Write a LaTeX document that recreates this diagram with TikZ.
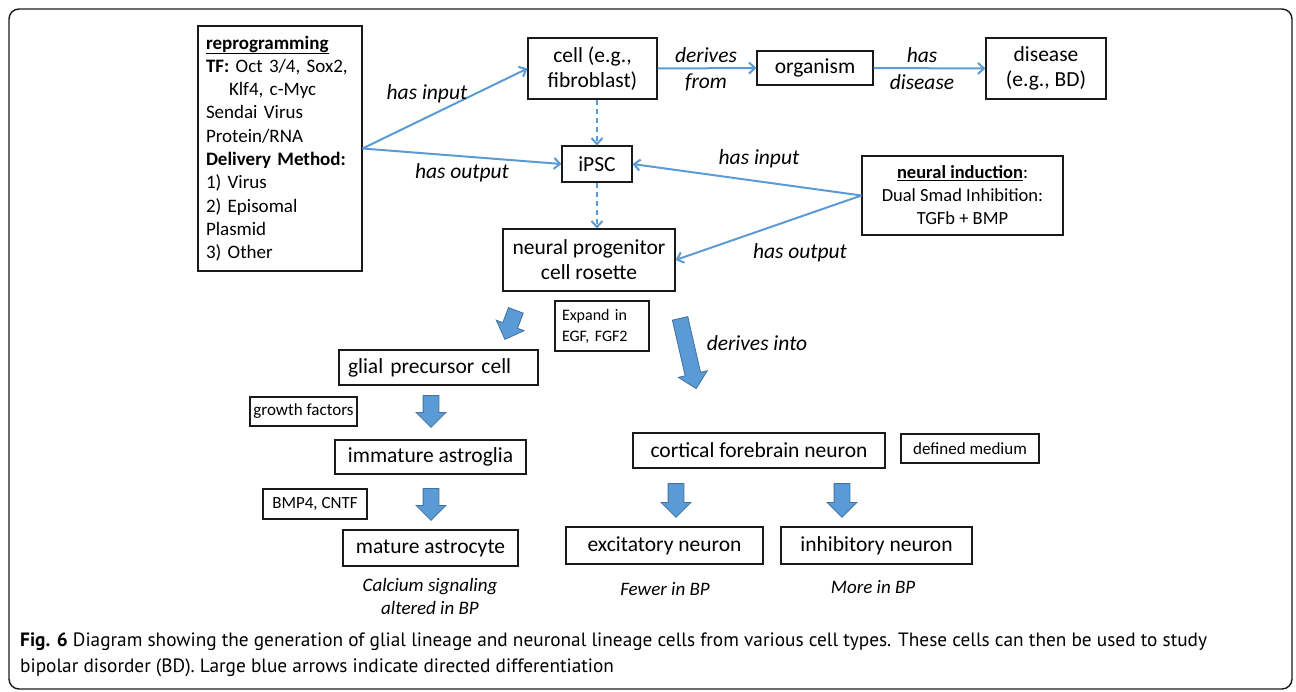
\documentclass[tikz,border=0pt]{standalone}
\usepackage{fontspec}
\setmainfont{Carlito}
\newfontfamily\capfont{PT Sans}
\usetikzlibrary{shapes.arrows,arrows.meta}
\definecolor{lineblue}{HTML}{5B9BD5}
\definecolor{arrfill}{HTML}{5B9BD5}
\definecolor{arredge}{HTML}{41719C}
\definecolor{boxline}{HTML}{1A1A1A}
\begin{document}
\begin{tikzpicture}[x=1pt,y=-1pt,
  box/.style={draw=boxline, line width=1.1pt, inner sep=0pt, align=center, font=\fontsize{21.5}{25}\selectfont},
  smallbox/.style={box, font=\fontsize{17}{21}\selectfont},
  rel/.style={draw=lineblue, line width=2pt, -{Straight Barb[length=6pt,width=11pt]}},
  dashrel/.style={rel, dash pattern=on 5pt off 4pt},
  lbl/.style={font=\fontsize{21.5}{25}\selectfont\itshape, inner sep=0pt},
  note/.style={font=\fontsize{19}{23}\selectfont\itshape, inner sep=0pt, align=center},
  bigarrow/.style={single arrow, draw=arredge, fill=arrfill, line width=0.8pt, inner sep=7.5pt, minimum width=29pt, single arrow head extend=7pt, anchor=tail}]
\useasboundingbox (0,0) rectangle (1296,691);
\draw[line width=1.4pt, draw=boxline, rounded corners=10pt] (9,9) rectangle (1292,689);

% nodes
\node[box, minimum width=164pt, minimum height=245pt, text width=148pt, align=left, font=\fontsize{19}{23.3}\selectfont] (repro) at (280,148.5)
 {\underline{\textbf{reprogramming}}\\ \textbf{TF:} Oct 3/4, Sox2,\\ \hspace*{23pt}Klf4, c-Myc\\ Sendai Virus\\ Protein/RNA\\ \textbf{Delivery Method:}\\ 1) Virus\\ 2) Episomal\\ Plasmid\\ 3) Other};
\node[box, minimum width=129pt, minimum height=61pt] (cell) at (592.5,68.5) {cell (e.g.,\\ fibroblast)};
\node[box, minimum width=116pt, minimum height=34pt] (org) at (815,68) {organism};
\node[box, minimum width=120pt, minimum height=61pt] (dis) at (1046,68.5) {disease\\ (e.g., BD)};
\node[box, minimum width=70pt, minimum height=36pt] (ipsc) at (597,164) {iPSC};
\node[box, minimum width=201pt, minimum height=79pt, font=\fontsize{18.5}{23}\selectfont] (ni) at (962.5,195.5)
 {\underline{\textbf{neural induction}}:\\ Dual Smad Inhibition:\\ TGFb + BMP};
\node[box, minimum width=172pt, minimum height=62pt] (np) at (589,260) {neural progenitor\\ cell rosette};
\node[smallbox, minimum width=94pt, minimum height=50pt, text width=80pt, align=left, font=\fontsize{16}{21}\selectfont] (exp) at (602,326) {Expand in\\ EGF, FGF2};
\node[box, minimum width=199pt, minimum height=35pt, text width=181pt, align=left] (gpc) at (438.5,367.5) {glial precursor cell};
\node[smallbox, minimum width=107pt, minimum height=29pt] (gf) at (303.5,411.5) {growth factors};
\node[box, minimum width=191pt, minimum height=34pt] (ia) at (430.5,457) {immature astroglia};
\node[smallbox, minimum width=104pt, minimum height=30pt] (bmp) at (315,504) {BMP4, CNTF};
\node[box, minimum width=175pt, minimum height=36pt] (ma) at (430.5,548) {mature astrocyte};
\node[note] (ca) at (430,596) {Calcium signaling\\ altered in BP};
\node[box, minimum width=252pt, minimum height=35pt] (cfn) at (759,450.5) {cortical forebrain neuron};
\node[smallbox, minimum width=138pt, minimum height=29pt] (dm) at (970,448.5) {defined medium};
\node[box, minimum width=197pt, minimum height=37pt] (exc) at (664.5,545.5) {excitatory neuron};
\node[box, minimum width=191pt, minimum height=37pt] (inh) at (876.5,545.5) {inhibitory neuron};
\node[note] (few) at (665,589) {Fewer in BP};
\node[note] (more) at (873,587) {More in BP};

% connectors
\draw[rel] (repro.east) -- (cell.west);
\draw[rel] (repro.east) -- (ipsc.west);
\draw[rel] (cell.east) -- (org.west);
\draw[rel] (org.east) -- (dis.west);
\draw[dashrel] (ipsc.north |- cell.south) -- (ipsc.north);
\draw[dashrel] (ipsc.south) -- (ipsc.south |- np.north);
\draw[rel] (ni.west) -- (ipsc.east);
\draw[rel] (ni.west) -- (np.east);

% connector labels
\node[lbl] (l1) at (427,94) {has input};
\node[lbl] (l2) at (462,173) {has output};
\node[lbl] (l3) at (706,55) {derives};
\node[lbl] (l4) at (706,82) {from};
\node[lbl] (l5) at (922,55) {has};
\node[lbl] (l6) at (922,82) {disease};
\node[lbl] (l7) at (759,159) {has input};
\node[lbl] (l8) at (800,253) {has output};
\node[lbl] (l9) at (757,343) {derives into};

% big differentiation arrows
\node[bigarrow, minimum height=31pt, rotate=-110.7] (ba1) at (516,310) {};
\node[bigarrow, minimum height=72pt, rotate=-77.1] (ba2) at (680,318) {};
\node[bigarrow, minimum height=32pt, rotate=-90] (ba3) at (431,395) {};
\node[bigarrow, minimum height=32pt, rotate=-90] (ba4) at (431,488) {};
\node[bigarrow, minimum height=34pt, rotate=-90] (ba5) at (676,483) {};
\node[bigarrow, minimum height=34pt, rotate=-90] (ba6) at (842,483) {};

% caption
\node[anchor=base west, inner sep=0pt, font=\capfont\fontsize{19.3}{22}\selectfont] (cap1) at (20,646)
 {\textbf{Fig. 6} Diagram showing the generation of glial lineage and neuronal lineage cells from various cell types. These cells can then be used to study};
\node[anchor=base west, inner sep=0pt, font=\capfont\fontsize{19.3}{22}\selectfont] (cap2) at (20,672)
 {bipolar disorder (BD). Large blue arrows indicate directed differentiation};
\end{tikzpicture}
\end{document}
